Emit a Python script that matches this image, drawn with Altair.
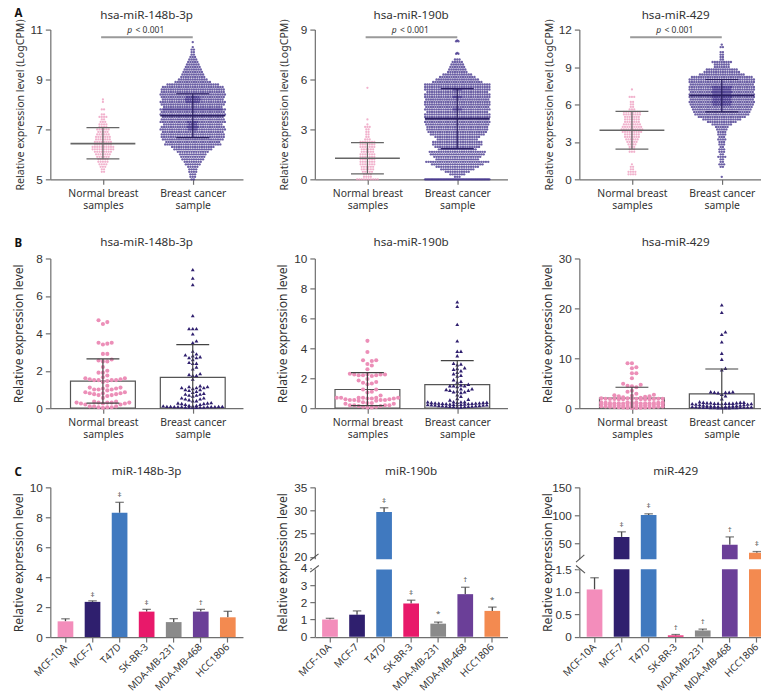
import altair as alt
import pandas as pd

GROUPS = ["Normal breast samples", "Breast cancer sample"]
CELLS = ["MCF-10A", "MCF-7", "T47D", "SK-BR-3", "MDA-MB-231", "MDA-MB-468", "HCC1806"]
BAR_COLORS = ["#f38dbb", "#2f1f6e", "#4079bf", "#e8196a", "#8a8a8a", "#6b3f98", "#f38a50"]

# Row A: swarm rows (expression level, number of dots in that row)
A1N_LEVELS = [5.3,5.4,5.5,5.6,5.7,5.8,5.9,6.0,6.1,6.2,6.3,6.4,6.5,6.6,6.7,6.8,6.9,7.0,7.1,7.2,7.3,7.4,7.5,7.6,7.8,8.1,8.2]
A1N_COUNTS = [2,2,3,4,5,5,6,7,8,10,10,8,8,7,7,6,5,6,4,4,3,2,4,2,2,1,1]
A1C_LEVELS = [5.0,5.1,5.2,5.3,5.4,5.5,5.6,5.7,5.8,5.9,6.0,6.1,6.2,6.3,6.4,6.5,6.6,6.7,6.8,6.9,7.0,7.1,7.2,7.3,7.4,7.5,7.6,7.7,7.8,7.9,8.0,8.1,8.2,8.3,8.4,8.5,8.6,8.7,8.8,8.9,9.0,9.1,9.2,9.3,9.4,9.5,9.6,9.7,9.8,9.9,10.0,10.1,10.2,10.3,10.5,
             7.8,8.1,8.2,8.3,7.0,7.1,7.2,7.3]
A1C_COUNTS = [2,3,3,4,4,5,7,8,10,11,12,14,17,19,25,24,27,28,28,27,29,28,26,29,28,27,29,28,29,26,28,29,27,28,29,28,28,27,23,16,13,11,10,9,8,7,6,5,4,3,2,2,2,1,1,
              26,6,7,6,4,5,4,5]
A2N_LEVELS = [0,0.15,0.3,0.45,0.6,0.75,0.9,1.05,1.2,1.35,1.5,1.65,1.8,1.95,2.1,2.25,2.4,2.55,2.7,2.85,3.0,3.15,3.3,3.6,5.5]
A2N_COUNTS = [10,4,4,5,6,6,7,7,7,7,7,6,6,7,7,7,3,2,2,2,2,3,1,1,1]
A2C_LEVELS = [0,0,0.15,0.3,0.45,0.6,0.75,0.9,1.05,1.2,1.35,1.5,1.65,1.8,1.95,2.1,2.25,2.4,2.55,2.7,2.85,3.0,3.15,3.3,3.45,3.6,3.75,3.9,4.05,4.2,4.35,4.5,4.65,4.8,4.95,5.1,5.25,5.4,5.55,5.7,5.85,6.0,6.15,6.3,6.45,6.6,6.75,6.9,7.05,7.2,7.55,7.6,8.3,8.35,
             5.4,4.95,4.2]
A2C_COUNTS = [29,28,3,7,11,15,19,23,28,19,21,24,25,17,20,22,22,18,20,24,26,27,27,28,29,28,29,29,27,29,28,29,29,28,29,29,27,29,29,29,22,19,16,13,9,8,7,6,5,3,2,1,2,1,
              4,4,4]
A3N_LEVELS = [0.4,0.6,0.8,1.0,1.2,2.2,2.4,2.6,2.8,3.0,3.2,3.4,3.6,3.8,4.0,4.2,4.4,4.6,4.8,5.0,5.2,5.4,5.6,5.8,6.0,6.2,6.6,7.2]
A3N_COUNTS = [4,4,2,2,1,3,3,3,4,5,6,7,7,9,10,9,8,7,7,7,8,8,3,2,2,2,3,1]
A3C_LEVELS = [0.2,1.0,1.2,1.4,1.6,1.8,2.0,2.2,2.4,2.6,2.8,3.0,3.2,3.4,3.6,3.8,4.0,4.2,4.4,4.6,4.8,5.0,5.2,5.4,5.6,5.8,6.0,6.2,6.4,6.6,6.8,7.0,7.2,7.4,7.6,7.8,8.0,8.2,8.4,8.6,8.8,9.0,9.2,9.4,9.6,9.8,10.0,10.2,10.6,10.8,
             6.0,6.2,6.4,6.6,6.8,7.0,7.2,7.4]
A3C_COUNTS = [1,2,3,2,2,4,2,3,3,2,3,3,4,3,4,4,5,6,9,13,17,21,24,25,26,27,28,29,28,29,29,28,29,29,28,29,29,27,20,16,14,7,7,9,2,2,2,2,2,1,
              8,9,8,9,8,9,8,9]
# Row A: mean, lower SD, upper SD, p-bar level
A_STATS = {"a1": [(6.43, 5.82, 7.07), (7.55, 6.67, 8.43)], "a2": [(1.27, 0.33, 2.2), (3.65, 1.85, 5.45)], "a3": [(3.93, 2.42, 5.45), (6.72, 5.4, 8.0)]}
A_PBAR = {"a1": (10.69, 10.97), "a2": (8.54, 8.97), "a3": (11.39, 11.95)}

# Row B: individual samples
B1N = [4.7,4.6,4.5,3.5,3.5,3.45,3.4,2.9,2.9,2.6,2.55,2.5,2.5,2.2,2.0,1.9,1.9,1.75,1.65,1.6,1.6,1.55,1.55,1.5,1.5,1.5,1.5,1.45,1.4,1.2,1.1,1.1,1.05,1.05,1.0,1.0,1.0,0.95,0.85,0.85,0.8,0.8,0.8,0.75,0.75,0.7,0.7,0.65,0.55,0.35,0.35,0.3,0.3,0.3,0.3,0.3,0.25,0.25,0.25,0.2,0.2,0.1,0.1,0.1,0.05,0.05,0.05,0.02]
B1C = [7.4,6.95,6.6,4.95,4.25,4.25,4.25,3.97,3.6,3.5,3.05,2.9,2.85,2.8,2.75,2.7,2.7,2.6,2.45,2.4,2.4,2.2,2.1,1.85,1.8,1.75,1.75,1.55,1.2,1.15,1.15,1.1,1.1,1.1,1.05,1.0,1.0,0.95,0.9,0.85,0.8,0.75,0.75,0.7,0.7,0.65,0.55,0.55,0.5,0.5,0.45,0.4,0.4,0.3,0.28,0.28,0.25,0.25,0.2,0.2,0.15,0.15,0.12,0.12,0.1,0.1,0.1,0.1,0.08,0.08,0.08,0.08,0.08,0.08,0.06,0.06,0.06,0.06,0.05,0.05]
B2N = [4.5,3.75,3.2,3.2,3.15,2.95,2.85,2.6,2.3,2.25,2.25,2.25,2.25,2.2,2.2,2.2,2.15,1.95,1.85,1.75,1.7,1.65,1.6,1.25,1.25,1.1,1.05,0.85,0.7,0.7,0.7,0.7,0.7,0.7,0.65,0.65,0.65,0.6,0.6,0.55,0.55,0.55,0.55,0.5,0.5,0.4,0.35,0.35,0.3,0.3,0.2,0.2,0.2,0.2,0.15,0.15,0.1,0.1,0.05,0.05]
B2C = [7.1,6.8,5.6,4.5,3.8,3.8,3.5,3.0,2.95,2.9,2.7,2.65,2.6,2.5,2.4,2.3,2.2,2.15,1.9,1.8,1.75,1.6,1.55,1.5,1.5,1.5,1.45,1.3,1.3,1.25,1.2,1.2,1.15,1.1,1.1,1.05,0.9,0.8,0.65,0.6,0.55,0.43,0.43,0.42,0.42,0.4,0.4,0.38,0.38,0.36,0.36,0.34,0.34,0.32,0.32,0.3,0.3,0.28,0.28,0.26,0.26,0.24,0.24,0.22,0.22,0.2,0.2,0.18,0.18,0.16,0.16,0.14,0.14,0.12,0.12,0.1,0.1,0.08,0.08]
B3N = [9.0,9.0,8.2,8.0,7.0,7.0,6.0,4.9,4.7,4.5,4.4,4.2,3.5,3.3,2.9,2.7,2.6,2.5,2.4,2.4,2.3,2.2,2.1,2.0,2.0,1.9,1.9,1.9,1.9,1.85,1.85,1.85,1.85,1.8,1.8,1.8,1.8,1.8,1.2,1.2,1.15,1.15,1.1,1.1,1.1,1.05,1.05,1.0,1.0,1.0,1.0,0.95,0.95,0.9,0.9,0.9,0.85,0.85,0.8,0.8,0.7,0.7,0.65,0.65,0.6,0.6,0.5,0.5,0.45,0.45,0.4,0.4,0.35,0.35,0.3,0.3,0.25,0.25,0.2,0.2,0.15,0.15,0.1,0.1,0.05,0.05]
B3C = [20.7,19.2,15.3,14.8,13.3,11.0,9.8,8.0,7.7,3.3,3.3,3.2,3.2,3.2,3.1,2.8,2.5,1.9,1.3,1.2,1.2,1.2,1.1,1.1,1.1,1.0,1.0,1.0,1.0,1.0,0.9,0.9,0.9,0.8,0.8,0.7,0.7,0.6,0.6,0.5,0.5,0.45,0.45,0.4,0.4,0.35,0.35,0.3,0.3,0.25,0.25,0.2,0.2,0.2,0.15,0.15,0.15,0.1,0.1,0.1,0.1,0.05,0.05,0.05,0.05]
# Row B: mean, lower whisker (None = hidden), upper whisker
B_STATS = {"b1": [(1.45, 0.27, 2.63), (1.65, None, 3.4)], "b2": [(1.25, 0.17, 2.37), (1.58, None, 3.18)], "b3": [(2.0, None, 4.2), (2.85, None, 7.85)]}

# Row C: mean, upper error, significance mark and its level
C1_VAL = [1.05,2.35,8.3,1.7,1.0,1.7,1.32]
C1_ERR = [1.22,2.42,9.0,1.85,1.23,1.85,1.72]
C1_SIG = ["", "‡", "‡", "‡", "", "†", ""]
C1_SIGY = [0,2.83,9.49,2.3,0,2.3,0]
C2_VAL = [1.0,1.28,29.7,1.93,0.76,2.47,1.5]
C2_ERR = [1.07,1.5,30.6,2.12,0.85,2.87,1.72]
C2_SIG = ["", "", "‡", "‡", "*", "†", "*"]
C2_SIGY = [0,0,32.1,2.53,1.3,3.3,2.13]
C3_VAL = [1.05,62,101,0.03,0.14,48,34]
C3_ERR = [1.31,71,103,0.05,0.17,62,36]
C3_SIG = ["", "‡", "‡", "†", "†", "†", "‡"]
C3_SIGY = [0,83.5,116,0.2,0.33,75,49.4]

W, WL, H = 193, 187, 150
PX = 90.0  # pixels per x unit in the two-group panels
X0 = 1 - 52.7 / PX
SANS = "Noto Sans"
NUM = "Liberation Sans"
INK = "#333333"
GREY = "#6f6f6f"
PINK = "#ee9dbf"
NAVY = "#47388f"


def rows(levels, counts, center, pitch=2.3):
    out = []
    for y, n in zip(levels, counts):
        for k in range(n):
            out.append({"x": center + (k - (n - 1) / 2) * pitch / PX, "y": y})
    return pd.DataFrame(out)


def dodge(values, center, ypx, d, hw=31.0):
    placed, out = [], []
    for v in sorted(values):
        py = v * ypx
        best, bestd = 0.0, -1.0
        k = 0
        while True:
            off = ((k + 1) // 2) * d * (1 if k % 2 else -1)
            if abs(off) > hw:
                break
            dist = min([(off - a) ** 2 + (py - b) ** 2 for a, b in placed] or [1e9])
            if dist >= (d * 0.92) ** 2:
                best, bestd = off, dist
                break
            if dist > bestd:
                best, bestd = off, dist
            k += 1
        placed.append((best, py))
        out.append({"x": center + best / PX, "y": v})
    return pd.DataFrame(out)


def yaxis(title, ticks, size, expr=None):
    kw = dict(title=title, values=ticks, titleFont=SANS, titleFontSize=size, titleFontWeight="normal", titleColor=INK,
              titlePadding=0, titleX=-25, labelFont=NUM, labelFontSize=11.8, labelColor=INK, tickColor=GREY,
              domainColor=GREY, tickSize=5, labelPadding=3, grid=False, domainWidth=1.2, tickWidth=1.2, labelOverlap=False)
    if expr:
        kw["labelExpr"] = expr
    return alt.Axis(**kw)


XAX2 = alt.Axis(title=None, values=[1, 2], labelExpr="datum.value == 1 ? ['Normal breast','samples'] : ['Breast cancer','sample']",
                labelFont=SANS, labelFontSize=10.4, labelColor=INK, labelLineHeight=12, labelPadding=4, tickSize=5,
                tickColor=GREY, domainColor=GREY, grid=False, domainWidth=1.2, tickWidth=1.2, labelOverlap=False, labelAngle=0)


def letter(ch, dy):
    return alt.Chart(pd.DataFrame({"t": [ch]})).mark_text(font=SANS, fontSize=11.5, fontWeight="bold", color="#111", align="left", baseline="top").encode(
        text="t:N", x=alt.value(-36), y=alt.value(dy))


def heading(name, dy, w):
    return alt.Chart(pd.DataFrame({"t": [name]})).mark_text(font=SANS, fontSize=11.7, color=INK, align="center", baseline="middle").encode(
        text="t:N", x=alt.value(W / 2), y=alt.value(dy))


def panel_a(key, name, dom, ticks, norm, canc, ch=None, w=W):
    ys = alt.Scale(domain=dom, nice=False, zero=False)
    xs = alt.Scale(domain=[X0, X0 + w / PX], nice=False)
    yax = yaxis("Relative expression level (LogCPM)", ticks, 10.6)
    X = lambda f="x": alt.X(f + ":Q", scale=xs, axis=XAX2)
    Y = lambda f="y": alt.Y(f + ":Q", scale=ys, axis=yax)
    dn, dc = rows(*norm, 1), rows(*canc, 2)
    layers = [
        alt.Chart(dn).mark_circle(size=5, color=PINK, opacity=0.8).encode(x=X(), y=Y()),
        alt.Chart(dc).mark_circle(size=5.5, color=NAVY, opacity=0.8).encode(x=X(), y=Y()),
    ]
    for i, (m, lo, hi) in enumerate(A_STATS[key]):
        c = i + 1
        col = ["#666666", "#2a1f5f"][i]
        segs = pd.DataFrame([
            {"x": c - 0.361, "x2": c + 0.361, "y": m, "w": 1.6},
            {"x": c - 0.183, "x2": c + 0.183, "y": hi, "w": 1.2},
            {"x": c - 0.183, "x2": c + 0.183, "y": lo, "w": 1.2},
        ])
        layers.append(alt.Chart(segs).mark_rule(color=col).encode(x=X(), x2="x2:Q", y=Y(), strokeWidth=alt.StrokeWidth("w:Q", scale=None)))
        layers.append(alt.Chart(pd.DataFrame({"x": [c], "y": [lo], "y2": [hi]})).mark_rule(color=col, strokeWidth=1.2).encode(x=X(), y=Y(), y2="y2:Q"))
    bar, txt = A_PBAR[key]
    layers.append(alt.Chart(pd.DataFrame({"x": [0.98], "x2": [2.0], "y": [bar]})).mark_rule(color="#9a9a9a", strokeWidth=2).encode(x=X(), x2="x2:Q", y=Y()))
    layers.append(alt.Chart(pd.DataFrame({"x": [1.326], "y": [txt], "t": ["p"]})).mark_text(font=SANS, fontSize=8.5, fontStyle="italic", color=INK, align="right").encode(x=X(), y=Y(), text="t:N"))
    layers.append(alt.Chart(pd.DataFrame({"x": [1.363], "y": [txt], "t": ["< 0.001"]})).mark_text(font=SANS, fontSize=8.5, color=INK, align="left").encode(x=X(), y=Y(), text="t:N"))
    layers.append(heading(name, -15, w))
    if ch:
        layers.append(letter(ch, -21.5))
    return alt.layer(*layers).properties(width=w, height=H)


def panel_b(key, name, top, ticks, norm, canc, ch=None, w=W):
    ys = alt.Scale(domain=[0, top], nice=False, zero=True)
    xs = alt.Scale(domain=[X0, X0 + w / PX], nice=False)
    yax = yaxis("Relative expression level", ticks, 12.2)
    X = lambda f="x": alt.X(f + ":Q", scale=xs, axis=XAX2)
    Y = lambda f="y": alt.Y(f + ":Q", scale=ys, axis=yax)
    ypx = H / top
    stats = B_STATS[key]
    bars = pd.DataFrame([{"x": i + 1 - 0.361, "x2": i + 1 + 0.361, "y": 0, "y2": s[0]} for i, s in enumerate(stats)])
    layers = [
        alt.Chart(bars).mark_rect(fill="white", stroke="#555555", strokeWidth=1.2).encode(x=X(), x2="x2:Q", y=Y(), y2="y2:Q"),
        alt.Chart(dodge(norm, 1, ypx, 4.4)).mark_circle(size=17, color="#ec8fb8", opacity=1).encode(x=X(), y=Y()),
        alt.Chart(dodge(canc, 2, ypx, 3.7)).mark_point(shape="triangle-up", size=15, filled=True, color="#2f1f6e", opacity=1).encode(x=X(), y=Y()),
    ]
    for i, (m, lo, hi) in enumerate(stats):
        c = i + 1
        caps = [{"x": c - 0.183, "x2": c + 0.183, "y": hi}]
        if lo is not None:
            caps.append({"x": c - 0.183, "x2": c + 0.183, "y": lo})
        layers.append(alt.Chart(pd.DataFrame(caps)).mark_rule(color="#444444", strokeWidth=1.2).encode(x=X(), x2="x2:Q", y=Y()))
        layers.append(alt.Chart(pd.DataFrame({"x": [c], "y": [lo if lo is not None else 0], "y2": [hi]})).mark_rule(color="#444444", strokeWidth=1.2).encode(x=X(), y=Y(), y2="y2:Q"))
    layers.append(heading(name, -16, w))
    if ch:
        layers.append(letter(ch, -20))
    return alt.layer(*layers).properties(width=w, height=H)


def panel_c(name, vals, errs, sig, sigy, ydomain, yrange, ticks, expr=None, gap=None, slashes=None, ch=None, w=W, outer=(0.27, 0.5)):
    ys = alt.Scale(domain=ydomain, range=yrange, nice=False, zero=False)
    xs = alt.Scale(domain=CELLS, paddingInner=0.42, paddingOuter=outer[0], align=outer[1])
    yax = yaxis("Relative expression level", ticks, 12.2, expr=expr)
    xax = alt.Axis(title=None, labelAngle=-45, labelAlign="right", labelBaseline="middle", labelFont=SANS, labelFontSize=10, labelColor=INK,
                   tickSize=5, tickColor=GREY, domainColor=GREY, domainWidth=1.2, tickWidth=1.2, labelPadding=3, labelOverlap=False, grid=False)
    X = alt.X("c:N", sort=CELLS, scale=xs, axis=xax)
    Y = lambda f="v": alt.Y(f + ":Q", scale=ys, axis=yax)
    df = pd.DataFrame({"c": CELLS, "v": vals, "e": errs, "z": [0] * 7, "col": BAR_COLORS, "s": sig, "sy": sigy})
    layers = [
        alt.Chart(df).mark_rule(color="#4a4a4a", strokeWidth=1.3).encode(x=X, y=Y(), y2="e:Q"),
        alt.Chart(df).mark_tick(orient="horizontal", size=8.5, thickness=1.3, color="#4a4a4a").encode(x=X, y=Y("e")),
        alt.Chart(df).mark_bar().encode(x=X, y=Y(), y2="z:Q", color=alt.Color("col:N", scale=None)),
    ]
    if gap:
        mask = pd.DataFrame({"y": [gap[0]], "y2": [gap[1]]})
        layers.append(alt.Chart(mask).mark_rect(fill="white").encode(x=alt.value(-3), x2=alt.value(w), y=Y("y"), y2="y2:Q"))
    for s in slashes or []:
        layers.append(alt.Chart(pd.DataFrame({"k": [0]})).mark_rule(color="#555555", strokeWidth=1.1).encode(
            x=alt.value(s[0]), x2=alt.value(s[1]), y=alt.value(s[2]), y2=alt.value(s[3])))
    layers.append(alt.Chart(df[df["s"] != ""]).mark_text(font=SANS, fontSize=8, color="#555555").encode(x=X, y=Y("sy"), text="s:N"))
    layers.append(heading(name, -16, w))
    if ch:
        layers.append(letter(ch, -20))
    return alt.layer(*layers).properties(width=w, height=H)


panels = [
    panel_a("a1", "hsa-miR-148b-3p", [5, 11], [5, 7, 9, 11], (A1N_LEVELS, A1N_COUNTS), (A1C_LEVELS, A1C_COUNTS), "A"),
    panel_a("a2", "hsa-miR-190b", [0, 9], [0, 3, 6, 9], (A2N_LEVELS, A2N_COUNTS), (A2C_LEVELS, A2C_COUNTS)),
    panel_a("a3", "hsa-miR-429", [0, 12], [0, 3, 6, 9, 12], (A3N_LEVELS, A3N_COUNTS), (A3C_LEVELS, A3C_COUNTS), w=WL),
    panel_b("b1", "hsa-miR-148b-3p", 8, [0, 2, 4, 6, 8], B1N, B1C, "B"),
    panel_b("b2", "hsa-miR-190b", 10, [0, 2, 4, 6, 8, 10], B2N, B2C),
    panel_b("b3", "hsa-miR-429", 30, [0, 10, 20, 30], B3N, B3C, w=WL),
    panel_c("miR-148b-3p", C1_VAL, C1_ERR, C1_SIG, C1_SIGY, [0, 10], [H, 0], [0, 2, 4, 6, 8, 10], ch="C"),
    panel_c("miR-190b", C2_VAL, C2_ERR, C2_SIG, C2_SIGY, [0, 3.9, 4, 19.5, 20, 35], [149.7, 82.3, 80.7, 72, 69.7, 0],
            [0, 1, 2, 3, 4, 20, 25, 30, 35], gap=(3.9, 19.5), slashes=[(-4.7, 3.7, 73.3, 66.7), (-4.7, 4, 85, 78.3)]),
    panel_c("miR-429", C3_VAL, C3_ERR, C3_SIG, C3_SIGY, [0, 1.5, 22.4, 150], [149.7, 82, 72, 0],
            [0, 0.5, 1, 1.5, 50, 100, 150], expr="datum.value > 0 && datum.value <= 1.5 ? format(datum.value, '.1f') : format(datum.value, 'd')",
            gap=(1.5, 22.4), slashes=[(-3.3, 5, 75, 67.7), (-3.3, 5.7, 78.3, 86)], w=WL, outer=(0.16, 0.85)),
]

chart = alt.concat(*panels, columns=3, bounds="flush", spacing={"row": 79.3, "column": 72}).properties(
    padding={"left": 3.4, "top": -1, "right": -5, "bottom": 0}).configure_view(stroke=None)

chart.save("out.html", embed_options={"renderer": "svg", "actions": False})
